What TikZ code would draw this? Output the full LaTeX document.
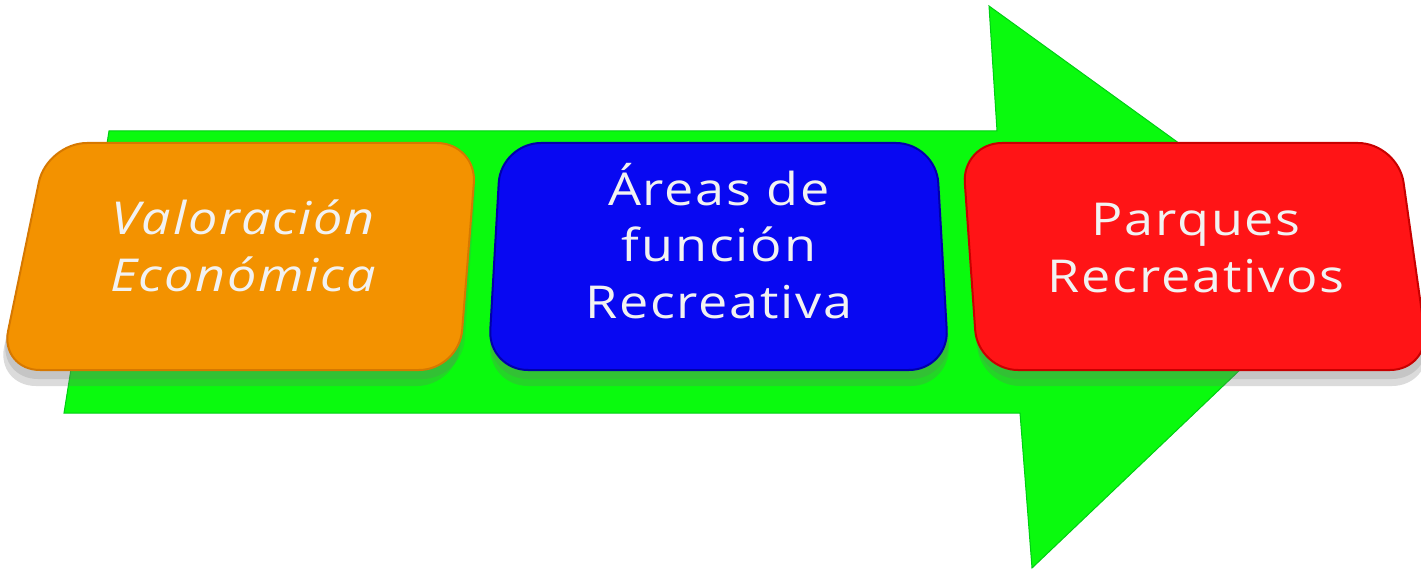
\documentclass[tikz,border=0pt]{standalone}
\usepackage{fontspec}
\setmainfont{Open Sans}[LetterSpace=4, FakeStretch=1.15]
\usepackage{xcolor}

\tikzset{
  shadowbox/.style={draw opacity=0, fill={rgb, 255:red, 110; green, 110; blue, 110 }, fill opacity=0.25, rounded corners=30pt},
  box/.style={line width=1.5pt, rounded corners=30pt},
  txt/.style={align=center, text={rgb, 255:red, 242; green, 242; blue, 242 }, font=\fontsize{34}{42.5}\selectfont},
  txtit/.style={txt, font=\fontsize{34}{42.5}\selectfont\itshape}
}

\begin{document}
\begin{tikzpicture}[x=0.75pt,y=0.75pt,yscale=-1,xscale=1]
\useasboundingbox (0,0) rectangle (1421,570);
\clip (0,0) rectangle (1421,570);

%Shape: Arrow [big green one]
\draw [color={rgb, 255:red, 0; green, 205; blue, 20 }  ,draw opacity=1 ][line width=0.75][fill={rgb, 255:red, 10; green, 250; blue, 14 }  ,fill opacity=1 ] (109,131) -- (997,131) -- (989,6) -- (1349,266) -- (1032,568) -- (1020,413) -- (64,413) -- cycle ;

%Shape: shadows
\fill [shadowbox] (43,160) -- (475,160) -- (457,386) -- (-4,386) -- cycle ;
\fill [shadowbox] (501,160) -- (938,160) -- (951,386) -- (488,386) -- cycle ;
\fill [shadowbox] (964,160) -- (1400,160) -- (1432,386) -- (980,386) -- cycle ;
\fill [shadowbox, fill opacity=0.2] (45,152) -- (478,152) -- (462,379) -- (-2,379) -- cycle ;
\fill [shadowbox, fill opacity=0.2] (501,152) -- (938,152) -- (951,379) -- (488,379) -- cycle ;
\fill [shadowbox, fill opacity=0.2] (963,152) -- (1400,152) -- (1432,379) -- (979,379) -- cycle ;

%Shape: Rounded box [orange]
\draw [box][color={rgb, 255:red, 214; green, 120; blue, 0 }  ,draw opacity=1 ][fill={rgb, 255:red, 243; green, 146; blue, 0 }  ,fill opacity=1 ] (47,143) -- (477,143) -- (459,370) -- (0,370) -- cycle ;
%Shape: Rounded box [blue]
\draw [box][color={rgb, 255:red, 0; green, 0; blue, 170 }  ,draw opacity=1 ][fill={rgb, 255:red, 8; green, 8; blue, 242 }  ,fill opacity=1 ] (501,143) -- (936,143) -- (949,370) -- (488,370) -- cycle ;
%Shape: Rounded box [red]
\draw [box][color={rgb, 255:red, 200; green, 0; blue, 0 }  ,draw opacity=1 ][fill={rgb, 255:red, 255; green, 20; blue, 22 }  ,fill opacity=1 ] (962,143) -- (1398,143) -- (1430,370) -- (978,370) -- cycle ;

% Text Node
\draw (243,246) node [txtit] (valor) {Valoración\\Económica};
% Text Node
\draw (719,241) node [txt] (areas) {Áreas de\\función\\Recreativa};
% Text Node
\draw (1196,248) node [txt] (parques) {Parques\\Recreativos};

\end{tikzpicture}
\end{document}
